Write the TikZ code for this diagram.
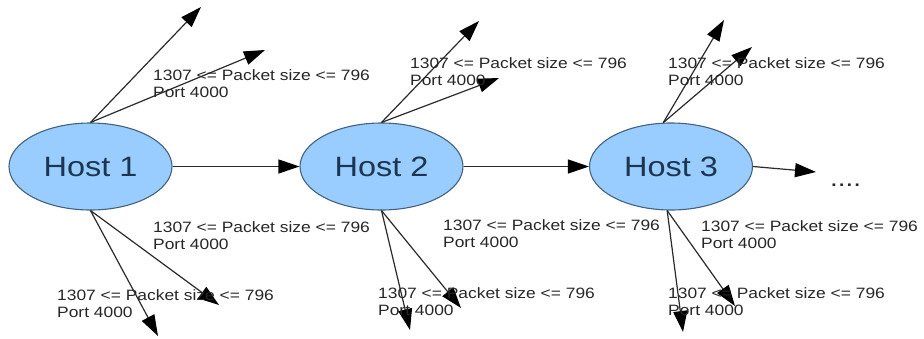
\documentclass[tikz,border=0pt]{standalone}
\usepackage{fontspec}
\setmainfont{Liberation Sans}
\newfontfamily\widesans[FakeStretch=1.16]{Liberation Sans}
\usetikzlibrary{arrows.meta,shapes.geometric}
\definecolor{hostfill}{HTML}{99CCFF}
\definecolor{hostline}{HTML}{44627F}
\definecolor{hosttext}{HTML}{1C3652}
\definecolor{edgeclr}{HTML}{2A2A2A}
\definecolor{labelclr}{HTML}{262626}
\begin{document}
\begin{tikzpicture}[x=1pt,y=-1pt,
  host/.style={ellipse,draw=hostline,line width=1.1pt,fill=hostfill,
    minimum width=163pt,minimum height=87pt,inner sep=0pt,
    font=\widesans\fontsize{28}{30}\selectfont,text=hosttext},
  flow/.style={draw=edgeclr,line width=1.2pt,
    -{Triangle[length=21pt,width=14pt,color=black]}},
  rule/.style={anchor=north west,inner sep=0pt,align=left,text=labelclr,
    font=\widesans\fontsize{15}{17}\selectfont}]
\useasboundingbox (0,0) rectangle (924,338);

% hosts
\node[host] (h1) at (90.5,166.5) {Host 1};
\node[host] (h2) at (381.5,166.5) {Host 2};
\node[host] (h3) at (671,166.5) {Host 3};

% free ends of the outgoing flows
\coordinate (h1a) at (201,7);
\coordinate (h1b) at (265,50);
\coordinate (h1c) at (158,336);
\coordinate (h1d) at (219,305);
\coordinate (h2a) at (479,21);
\coordinate (h2b) at (499,78);
\coordinate (h2c) at (410,330);
\coordinate (h2d) at (461,308);
\coordinate (h3a) at (724,20);
\coordinate (h3b) at (752,47);
\coordinate (h3c) at (683,332);
\coordinate (h3d) at (735,306);
\coordinate (h3e) at (816,172);

% flows between hosts
\draw[flow] (h1.east) -- (h2.west);
\draw[flow] (h2.east) -- (h3.west);
\draw[flow] (h3.east) -- (h3e);
\node[inner sep=0pt,anchor=base west,text=labelclr,
  font=\widesans\fontsize{24}{24}\selectfont] (dots) at (830,186) {....};

% flows leaving each host
\draw[flow] (h1.north) -- (h1a);
\draw[flow] (h1.north) -- (h1b);
\draw[flow] (h1.south) -- (h1c);
\draw[flow] (h1.south) -- (h1d);
\draw[flow] (h2.north) -- (h2a);
\draw[flow] (h2.north) -- (h2b);
\draw[flow] (h2.south) -- (h2c);
\draw[flow] (h2.south) -- (h2d);
\draw[flow] (h3.100) -- (h3a);
\draw[flow] (h3.100) -- (h3b);
\draw[flow] (h3.265) -- (h3c);
\draw[flow] (h3.265) -- (h3d);

% filter rules
\node[rule] (r1a) at (153,69) {1307 <= Packet size <= 796\\Port 4000};
\node[rule] (r1b) at (153,221) {1307 <= Packet size <= 796\\Port 4000};
\node[rule] (r1c) at (57,289) {1307 <= Packet size <= 796\\Port 4000};
\node[rule] (r2a) at (410,57) {1307 <= Packet size <= 796\\Port 4000};
\node[rule] (r2b) at (443,219) {1307 <= Packet size <= 796\\Port 4000};
\node[rule] (r2c) at (378,287) {1307 <= Packet size <= 796\\Port 4000};
\node[rule] (r3a) at (668,57) {1307 <= Packet size <= 796\\Port 4000};
\node[rule] (r3b) at (701,220) {1307 <= Packet size <= 796\\Port 4000};
\node[rule] (r3c) at (668,287) {1307 <= Packet size <= 796\\Port 4000};
\end{tikzpicture}
\end{document}
